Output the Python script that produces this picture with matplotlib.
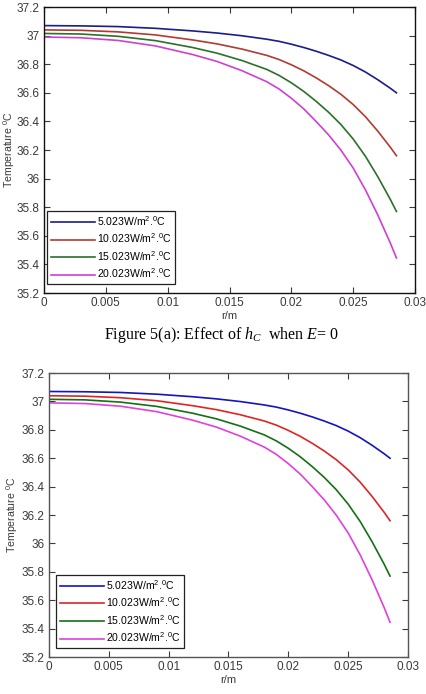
import matplotlib
matplotlib.use("Agg")
import matplotlib.pyplot as plt

# fuentes
plt.rcParams['font.family'] = ['Liberation Sans', 'DejaVu Sans']
plt.rcParams['mathtext.fontset'] = 'custom'
plt.rcParams['mathtext.rm'] = 'Liberation Serif'
plt.rcParams['mathtext.it'] = 'Liberation Serif:italic'

# datos
r = [0, 0.003, 0.006, 0.009, 0.012, 0.014, 0.016, 0.018, 0.019, 0.020,
     0.021, 0.022, 0.023, 0.024, 0.025, 0.026, 0.027, 0.028, 0.0285]
t_5 = [37.07, 37.068, 37.063, 37.051, 37.033, 37.018, 36.999, 36.975, 36.960,
       36.940, 36.917, 36.891, 36.862, 36.830, 36.791, 36.745, 36.691, 36.632,
       36.60]
t_10 = [37.04, 37.037, 37.026, 37.005, 36.970, 36.942, 36.906, 36.862, 36.833,
        36.796, 36.754, 36.705, 36.651, 36.590, 36.518, 36.432, 36.331, 36.22,
        36.16]
t_15 = [37.015, 37.011, 36.995, 36.965, 36.917, 36.877, 36.826, 36.764, 36.722,
        36.670, 36.610, 36.541, 36.465, 36.379, 36.277, 36.155, 36.012, 35.855,
        35.77]
t_20 = [36.99, 36.985, 36.966, 36.928, 36.868, 36.819, 36.755, 36.678, 36.627,
        36.562, 36.488, 36.40, 36.307, 36.20, 36.074, 35.92, 35.744, 35.55,
        35.445]

series = [t_5, t_10, t_15, t_20]
labels = [r'5.023W/m$^{\mathregular{2}}$.$^{\mathregular{0}}$C',
          r'10.023W/m$^{\mathregular{2}}$.$^{\mathregular{0}}$C',
          r'15.023W/m$^{\mathregular{2}}$.$^{\mathregular{0}}$C',
          r'20.023W/m$^{\mathregular{2}}$.$^{\mathregular{0}}$C']

xticks = [0, 0.005, 0.01, 0.015, 0.02, 0.025, 0.03]
xticklabels = ['0', '0.005', '0.01', '0.015', '0.02', '0.025', '0.03']
yticks = [35.2, 35.4, 35.6, 35.8, 36.0, 36.2, 36.4, 36.6, 36.8, 37.0, 37.2]
yticklabels = ['35.2', '35.4', '35.6', '35.8', '36', '36.2', '36.4', '36.6',
               '36.8', '37', '37.2']

colores_a = ['#1c1c8a', '#b23a30', '#2b702b', '#d040d0']
colores_b = ['#1414c0', '#e02424', '#147014', '#e040e0']

fig = plt.figure(figsize=(4.26, 6.94), dpi=100)
ax1 = fig.add_axes([0.1033, 0.5778, 0.8709, 0.4121])
ax2 = fig.add_axes([0.1150, 0.0533, 0.8427, 0.4092])


def dibujar(ax, colores, spine_color, leg_anchor, ylab_x):
    for t, c, lab in zip(series, colores, labels):
        ax.plot(r, t, '-', color=c, lw=1.2, label=lab)
    ax.set_xlim(0, 0.03)
    ax.set_ylim(35.2, 37.2)
    ax.set_xticks(xticks)
    ax.set_xticklabels(xticklabels)
    ax.set_yticks(yticks)
    ax.set_yticklabels(yticklabels)
    ax.tick_params(direction='in', top=True, right=True, length=4,
                   width=0.8, labelsize=8.5, colors='#3a3a3a', pad=3)
    for s in ax.spines.values():
        s.set_color(spine_color)
        s.set_linewidth(1.0)
    ax.set_xlabel('r/m', fontsize=8, color='#3a3a3a', labelpad=1)
    ax.set_ylabel(r'Temperature $^{\mathregular{0}}$C', fontsize=7.6,
                  color='#3a3a3a')
    ax.yaxis.set_label_coords(ylab_x, 0.5)
    leg = ax.legend(loc='lower left', bbox_to_anchor=leg_anchor, fontsize=7.6,
                    fancybox=False, framealpha=1, edgecolor='#222222',
                    handlelength=4.2, handletextpad=0.2, labelspacing=0.42,
                    borderpad=0.35, borderaxespad=0)
    leg.get_frame().set_linewidth(0.9)


dibujar(ax1, colores_a, '#111111', (0.008, 0.031), -0.074)
dibujar(ax2, colores_b, '#555555', (0.0195, 0.032), -0.081)

# titulo entre las graficas
fig.text(0.519, 0.517, r'Figure 5(a): Effect of $h_C$  when $E$= $\mathit{0}$',
         family='Liberation Serif', fontsize=11.5, ha='center', va='center')

fig.savefig('out.png', dpi=100)
